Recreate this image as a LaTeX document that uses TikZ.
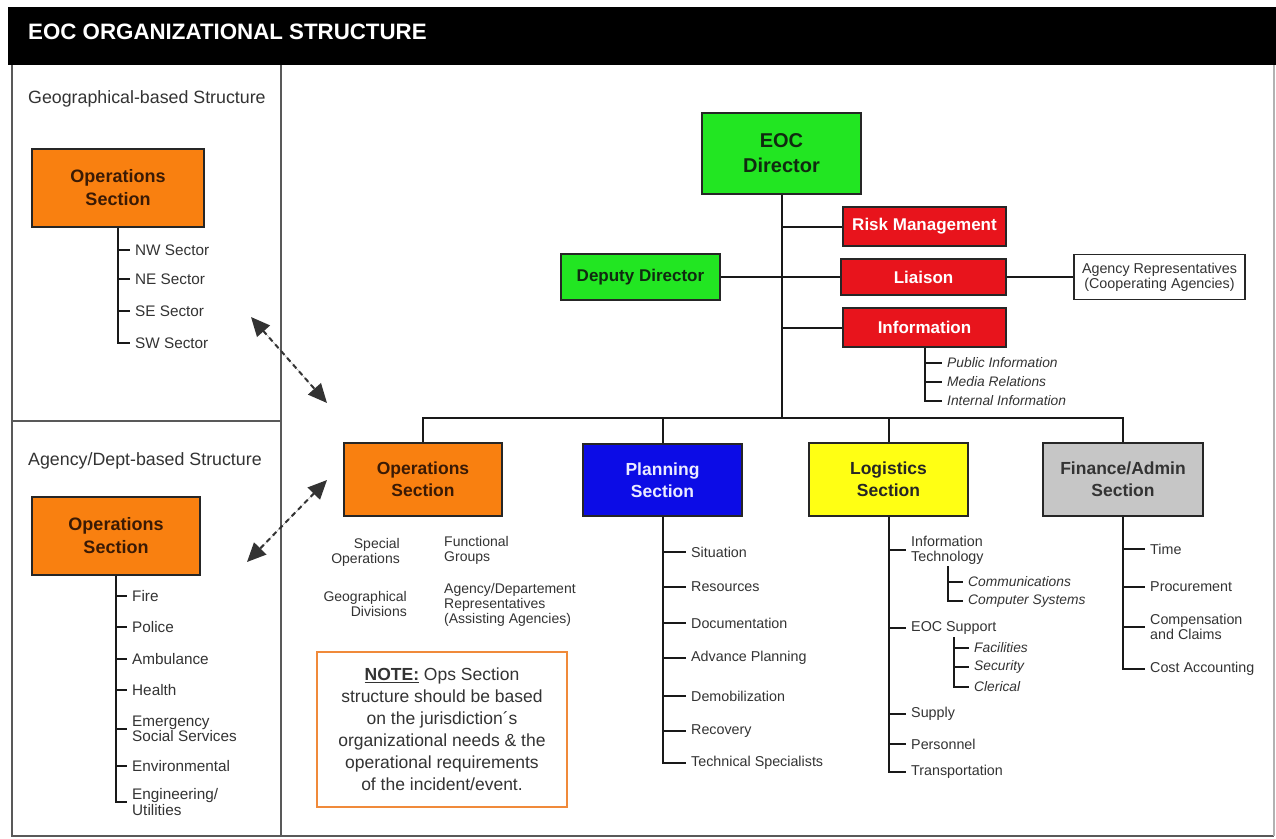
\documentclass[tikz,border=0pt]{standalone}
\usepackage{fontspec}
\setmainfont{Liberation Sans}
\usetikzlibrary{arrows.meta}
\definecolor{eocgreen}{HTML}{22E622}
\definecolor{greentext}{HTML}{102A10}
\definecolor{riskred}{HTML}{E8141C}
\definecolor{planblue}{HTML}{0C0CE6}
\definecolor{logyellow}{HTML}{FFFF14}
\definecolor{fingray}{HTML}{C6C6C6}
\definecolor{opsorange}{HTML}{F98010}
\definecolor{opstext}{HTML}{3A1A05}
\definecolor{noteborder}{HTML}{F08A3A}
\definecolor{itemtext}{HTML}{333333}
\begin{document}
\begin{tikzpicture}[x=1pt,y=-1pt,
  box/.style={draw=black!85, line width=1.8pt, inner sep=0pt, align=center,
    font=\bfseries\fontsize{17.5}{22}\selectfont},
  secbox/.style={box, minimum width=159pt, minimum height=73pt},
  redbox/.style={box, fill=riskred, text=white, minimum width=163pt, font=\bfseries\fontsize{17}{20}\selectfont},
  item/.style={anchor=west, inner xsep=5pt, inner ysep=0pt, align=left, text=itemtext,
    font=\fontsize{14.3}{15}\selectfont},
  litem/.style={item, font=\fontsize{15.3}{15.5}\selectfont},
  sitem/.style={item, font=\itshape\fontsize{13.8}{15}\selectfont},
  tree/.style={draw=black!90, line width=2pt},
  framel/.style={draw=black!65, line width=1.8pt},
  darr/.style={{Triangle[length=19pt,width=17pt]}-{Triangle[length=19pt,width=17pt]},
    dash pattern=on 5pt off 4pt, line width=2pt, draw=black!80, fill=black!90},
  hdr/.style={anchor=west, inner sep=0pt, text=black!80, font=\fontsize{17.8}{20}\selectfont}
]
\useasboundingbox (0,0) rectangle (1276,838);
\fill[white] (0,0) rectangle (1276,838);

% title bar and frame
\fill[black] (8,7) rectangle (1276,65);
\node[anchor=west, inner sep=0pt, text=white, font=\bfseries\fontsize{22.3}{26}\selectfont] (title) at (28,32) {EOC ORGANIZATIONAL STRUCTURE};
\draw[framel] (12,65) -- (12,836) -- (1274,836);
\draw[draw=black!30, line width=1.2pt] (1274,65) -- (1274,836);
\draw[framel] (281,65) -- (281,836);
\draw[framel] (12,421) -- (281,421);

% left panel: geographical
\node[hdr] (geohdr) at (28,99) {Geographical-based Structure};
\node[box, fill=opsorange, text=opstext, minimum width=172pt, minimum height=78pt,
  font=\bfseries\fontsize{18}{23}\selectfont] (geoops) at (118,188) {Operations\\Section};
\node[litem] (nw) at (130,250) {NW Sector};
\node[litem] (ne) at (130,279) {NE Sector};
\node[litem] (se) at (130,311) {SE Sector};
\node[litem] (sw) at (130,343) {SW Sector};
\foreach \n in {nw,ne,se,sw} \draw[tree] (geoops.south) |- (\n.west);

% left panel: agency
\node[hdr] (aghdr) at (28,461) {Agency/Dept-based Structure};
\node[box, fill=opsorange, text=opstext, minimum width=168pt, minimum height=78pt,
  font=\bfseries\fontsize{18}{23}\selectfont] (agops) at (116,536) {Operations\\Section};
\node[litem] (fire) at (127,596) {Fire};
\node[litem] (police) at (127,627) {Police};
\node[litem] (amb) at (127,659) {Ambulance};
\node[litem] (health) at (127,690) {Health};
\node[litem] (ess) at (127,729) {Emergency\\Social Services};
\node[litem] (env) at (127,766) {Environmental};
\node[litem] (eng) at (127,802) {Engineering/\\Utilities};
\foreach \n in {fire,police,amb,health,ess,env,eng} \draw[tree] (agops.south) |- (\n.west);

% dashed double arrows
\coordinate (a1s) at (251,317);
\coordinate (a1e) at (327,403);
\coordinate (a2s) at (327,480);
\coordinate (a2e) at (247,562);
\draw[darr] (a1s) -- (a1e);
\draw[darr] (a2s) -- (a2e);

% command staff
\node[box, fill=eocgreen, text=greentext, minimum width=159pt, minimum height=81pt,
  font=\bfseries\fontsize{20}{25}\selectfont] (eoc) at (781.5,153.5) {EOC\\Director};
\node[redbox, minimum height=39pt] (risk) at (924.5,226.5) {Risk Management};
\node[redbox, minimum width=165pt, minimum height=36pt] (liaison) at (923.5,277) {Liaison};
\node[redbox, minimum height=39pt] (info) at (924.5,327.5) {Information};
\node[box, fill=eocgreen, text=greentext, minimum width=159pt, minimum height=46pt,
  font=\bfseries\fontsize{17}{20}\selectfont] (deputy) at (640.5,277) {Deputy Director};
\node[draw=black!85, line width=1.8pt, fill=white, minimum width=171pt, minimum height=45pt,
  inner sep=0pt, align=center, text=itemtext, font=\fontsize{14.3}{15}\selectfont] (agrep) at (1159.5,277)
  {Agency Representatives\\(Cooperating Agencies)};

\coordinate (busc) at (781.5,418);
\draw[tree] (eoc.south) -- (busc);
\draw[tree] (eoc.south |- risk.west) -- (risk.west);
\draw[tree] (deputy.east) -- (liaison.west);
\draw[tree] (eoc.south |- info.west) -- (info.west);
\draw[tree] (liaison.east) -- (agrep.west);

\node[sitem] (pubinfo) at (942,363) {Public Information};
\node[sitem] (media) at (942,382) {Media Relations};
\node[sitem] (intinfo) at (942,401) {Internal Information};
\foreach \n in {pubinfo,media,intinfo} \draw[tree] (info.south) |- (\n.west);

% sections
\node[secbox, fill=opsorange, text=opstext, minimum width=158pt] (ops) at (423,479.5) {Operations\\Section};
\node[secbox, fill=planblue, text=white!92!blue, minimum height=72pt] (plan) at (662.5,480) {Planning\\Section};
\node[secbox, fill=logyellow, text=black!85] (logi) at (888.5,479.5) {Logistics\\Section};
\node[secbox, fill=fingray, text=black!80, minimum width=160pt] (fin) at (1123,479.5) {Finance/Admin\\Section};

\draw[tree] (ops.north) |- (busc) -| (fin.north);
\draw[tree] (plan.north) -- (plan.north |- busc);
\draw[tree] (logi.north) -- (logi.north |- busc);

% operations descriptors
\node[anchor=east, inner sep=0pt, align=right, text=itemtext, font=\fontsize{14}{15}\selectfont] (specops) at (400,552) {Special\\Operations};
\node[anchor=east, inner sep=0pt, align=right, text=itemtext, font=\fontsize{14}{15}\selectfont] (geodiv) at (407,604) {Geographical\\Divisions};
\node[anchor=west, inner sep=0pt, align=left, text=itemtext, font=\fontsize{14}{15}\selectfont] (funcgr) at (444,550) {Functional\\Groups};
\node[anchor=west, inner sep=0pt, align=left, text=itemtext, font=\fontsize{14}{15}\selectfont] (agdep) at (444,605) {Agency/Departement\\Representatives\\(Assisting Agencies)};

% note
\node[draw=noteborder, line width=2.5pt, fill=white, minimum width=250pt, minimum height=155pt,
  inner sep=0pt, align=center, text=black!80, font=\fontsize{17.5}{22}\selectfont] (note) at (442,729.5)
  {\underline{\textbf{NOTE:}} Ops Section\\structure should be based\\on the jurisdiction´s\\organizational needs \& the\\operational requirements\\of the incident/event.};

% planning items
\node[item] (sit) at (686,552) {Situation};
\node[item] (res) at (686,587) {Resources};
\node[item] (doc) at (686,623) {Documentation};
\node[item] (adv) at (686,658) {Advance Planning};
\node[item] (demob) at (686,696) {Demobilization};
\node[item] (recov) at (686,731) {Recovery};
\node[item] (tech) at (686,763) {Technical Specialists};
\foreach \n in {sit,res,doc,adv,demob,recov,tech} \draw[tree] (plan.south) |- (\n.west);

% logistics items
\node[item] (it) at (906,550) {Information\\Technology};
\node[item] (eocsup) at (906,628) {EOC Support};
\node[item] (supply) at (906,714) {Supply};
\node[item] (pers) at (906,744) {Personnel};
\node[item] (trans) at (906,772) {Transportation};
\foreach \n in {it,eocsup,supply,pers,trans} \draw[tree] (logi.south) |- (\n.west);

\coordinate (itsub) at (948,566);
\node[sitem] (comm) at (963,582) {Communications};
\node[sitem] (comp) at (963,601) {Computer Systems};
\foreach \n in {comm,comp} \draw[tree] (itsub) |- (\n.west);

\coordinate (supsub) at (954,637);
\node[sitem] (fac) at (969,648) {Facilities};
\node[sitem] (sec) at (969,667) {Security};
\node[sitem] (cler) at (969,687) {Clerical};
\foreach \n in {fac,sec,cler} \draw[tree] (supsub) |- (\n.west);

% finance items
\node[item] (time) at (1145,549) {Time};
\node[item] (proc) at (1145,587) {Procurement};
\node[item] (comp2) at (1145,627) {Compensation\\and Claims};
\node[item] (cost) at (1145,669) {Cost Accounting};
\foreach \n in {time,proc,comp2,cost} \draw[tree] (fin.south) |- (\n.west);
\end{tikzpicture}
\end{document}
